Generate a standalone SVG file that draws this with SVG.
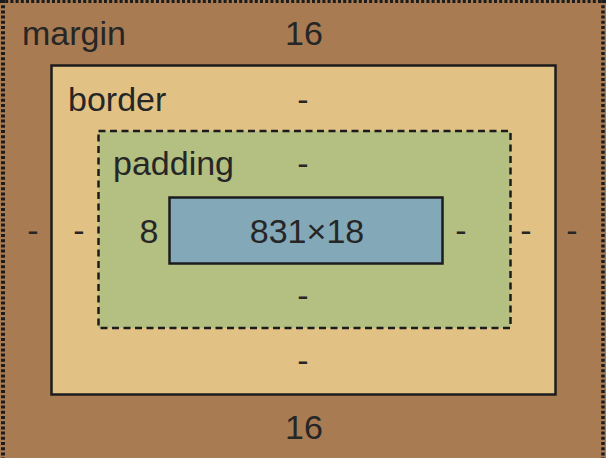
<svg xmlns="http://www.w3.org/2000/svg" width="606" height="458" viewBox="0 0 606 458">
<style>
.t{font-family:"Liberation Sans",Arial,Helvetica,sans-serif;font-size:34px;fill:#262626}
.m{text-anchor:middle}
.edge{stroke:#1c1c1c;stroke-width:2.5}
.line{fill:none;stroke:#1c1c1c;stroke-width:3}
.dash{stroke-dasharray:3 2.2}
.pd{stroke-dasharray:7 4.5}
</style>
<g id="margin">
<rect x="0" y="0" width="606" height="458" fill="#a87b52"/>
<line class="line dash" x1="0" y1="1.5" x2="606" y2="1.5"/>
<line class="line dash" x1="3" y1="0" x2="3" y2="458" style="stroke-width:4"/>
<line class="line dash" x1="603" y1="0" x2="603" y2="458" style="stroke-width:3.5"/>
<text class="t" x="22" y="45">margin</text>
<text class="t m" x="304" y="45">16</text>
<text class="t m" x="304" y="439">16</text>
<text class="t m" x="33" y="242">-</text>
<text class="t m" x="572" y="242">-</text>
</g>
<g id="border">
<rect class="edge" x="51.5" y="65.5" width="504" height="329" style="fill:#e2c284"/>
<text class="t" x="68" y="111">border</text>
<text class="t m" x="303" y="111">-</text>
<text class="t m" x="303" y="372">-</text>
<text class="t m" x="79" y="242">-</text>
<text class="t m" x="526" y="242">-</text>
</g>
<g id="padding">
<rect class="edge pd" x="98.5" y="131" width="412" height="197" style="fill:#b4bf82"/>
<text class="t" x="113" y="175">padding</text>
<text class="t m" x="303" y="175">-</text>
<text class="t m" x="303" y="307">-</text>
<text class="t m" x="149" y="243">8</text>
<text class="t m" x="461" y="242">-</text>
</g>
<g id="content">
<rect class="edge" x="169.5" y="197.5" width="273" height="66" style="fill:#83a8b8"/>
<text class="t m" x="307" y="243">831×18</text>
</g>
<g id="connectors"/>
</svg>
